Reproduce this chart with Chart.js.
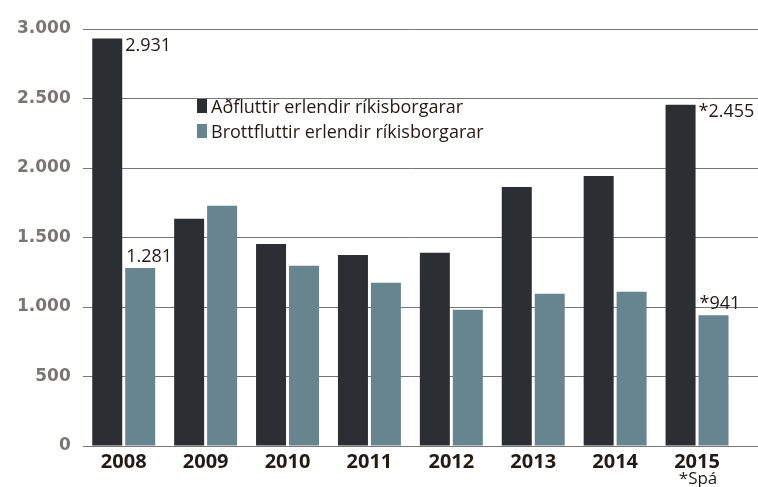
<!DOCTYPE html>
<html>
<head>
<meta charset="utf-8">
<script src="https://cdn.jsdelivr.net/npm/chart.js"></script>
<style>
  body { margin: 0; background: #fff; }
  #wrap { position: relative; width: 758px; height: 487px; }
  #legend { position: absolute; left: 197px; top: 93px; font-family: 'Open Sans', sans-serif; font-size: 18px; color: #231a14; }
  #legend div { display: flex; align-items: center; height: 25px; }
  #legend span.box { display: inline-block; width: 10px; height: 14px; margin-right: 4px; }
</style>
</head>
<body>
<div id="wrap">
  <canvas id="chart"></canvas>
  <div id="legend"></div>
</div>
<script>
// ── DATA ────────────────────────────────────────
const years      = ['2008', '2009', '2010', '2011', '2012', '2013', '2014', '2015'];
const arrivals   = [2931, 1634, 1454, 1375, 1390, 1864, 1943, 2455];  // Aðfluttir
const departures = [1281, 1728, 1296, 1174, 980, 1095, 1109, 941];    // Brottfluttir
const yTicks     = [0, 500, 1000, 1500, 2000, 2500, 3000];
const labelledIdx  = [0, 7];   // bars with a value written next to them
const forecastIdx  = 7;        // 2015 is a forecast (*Spá)
const forecastNote = '*Spá';

const FONT = "'Open Sans', sans-serif";
const fmt = v => String(v).replace(/\B(?=(\d{3})+(?!\d))/g, '.');

// values written beside selected bars
const valueLabels = {
  id: 'valueLabels',
  afterDatasetsDraw(chart) {
    const ctx = chart.ctx;
    ctx.save();
    ctx.font = '18px ' + FONT;
    ctx.fillStyle = '#231a14';
    ctx.textAlign = 'left';
    chart.data.datasets.forEach((ds, di) => {
      const meta = chart.getDatasetMeta(di);
      labelledIdx.forEach(i => {
        const bar = meta.data[i];
        const txt = (i === forecastIdx ? '*' : '') + fmt(ds.data[i]);
        if (di === 0) {
          // to the right of the dark bar, at its top
          ctx.textBaseline = 'top';
          ctx.fillText(txt, bar.x + bar.width / 2 + 3, bar.y - 2);
        } else {
          // above the light bar
          ctx.textBaseline = 'alphabetic';
          ctx.fillText(txt, bar.x - bar.width / 2 + 1, bar.y - 6);
        }
      });
    });
    ctx.restore();
  }
};

// gridlines run on to the right edge, plus the *Spá note under 2015
const extras = {
  id: 'extras',
  beforeDatasetsDraw(chart) {
    const { ctx, chartArea, scales } = chart;
    ctx.save();
    ctx.strokeStyle = '#767676';
    ctx.lineWidth = 1;
    yTicks.forEach(t => {
      // same pixel snapping Chart.js uses for its own grid
      const y = Math.round(scales.y.getPixelForValue(t) - 0.5) + 0.5;
      ctx.beginPath();
      ctx.moveTo(chartArea.right - 1, y);
      ctx.lineTo(chart.width, y);
      ctx.stroke();
    });
    ctx.restore();
  },
  afterDraw(chart) {
    const ctx = chart.ctx;
    ctx.save();
    ctx.font = '17px ' + FONT;
    ctx.fillStyle = '#231a14';
    ctx.textAlign = 'center';
    ctx.textBaseline = 'alphabetic';
    ctx.fillText(forecastNote, chart.scales.x.getPixelForValue(forecastIdx) + 1, 484);
    ctx.restore();
  }
};

const chart = new Chart(document.getElementById('chart'), {
  type: 'bar',
  data: {
    labels: years,
    datasets: [
      { label: 'Aðfluttir erlendir ríkisborgarar', data: arrivals, backgroundColor: '#2b2f33',
        barPercentage: 0.91, categoryPercentage: 0.805 },
      { label: 'Brottfluttir erlendir ríkisborgarar', data: departures, backgroundColor: '#67858f',
        barPercentage: 0.91, categoryPercentage: 0.805 }
    ]
  },
  options: {
    responsive: true,
    maintainAspectRatio: false,
    animation: false,
    layout: { padding: { top: 29, right: 20, bottom: 17, left: 5 } },
    plugins: {
      legend: { display: false },
      tooltip: { enabled: false }
    },
    scales: {
      x: {
        grid: { display: false },
        border: { display: false },
        ticks: { font: { family: FONT, size: 20, weight: 'bold' }, color: '#231a14', padding: -4 }
      },
      y: {
        min: 0,
        max: 3000,
        afterBuildTicks: axis => { axis.ticks = yTicks.map(v => ({ value: v })); },
        grid: { color: '#767676', lineWidth: 1, drawTicks: false },
        border: { display: false },
        ticks: {
          font: { family: "'DejaVu Sans', sans-serif", size: 17, weight: 'bold' },
          color: '#7a7673',
          padding: 12,
          callback: v => fmt(v)
        }
      }
    }
  },
  plugins: [valueLabels, extras]
});

// legend as an overlay inside the plot
const legendEl = document.getElementById('legend');
chart.data.datasets.forEach(ds => {
  const row = document.createElement('div');
  row.innerHTML = `<span class="box" style="background:${ds.backgroundColor}"></span>${ds.label}`;
  legendEl.appendChild(row);
});
</script>
</body>
</html>
